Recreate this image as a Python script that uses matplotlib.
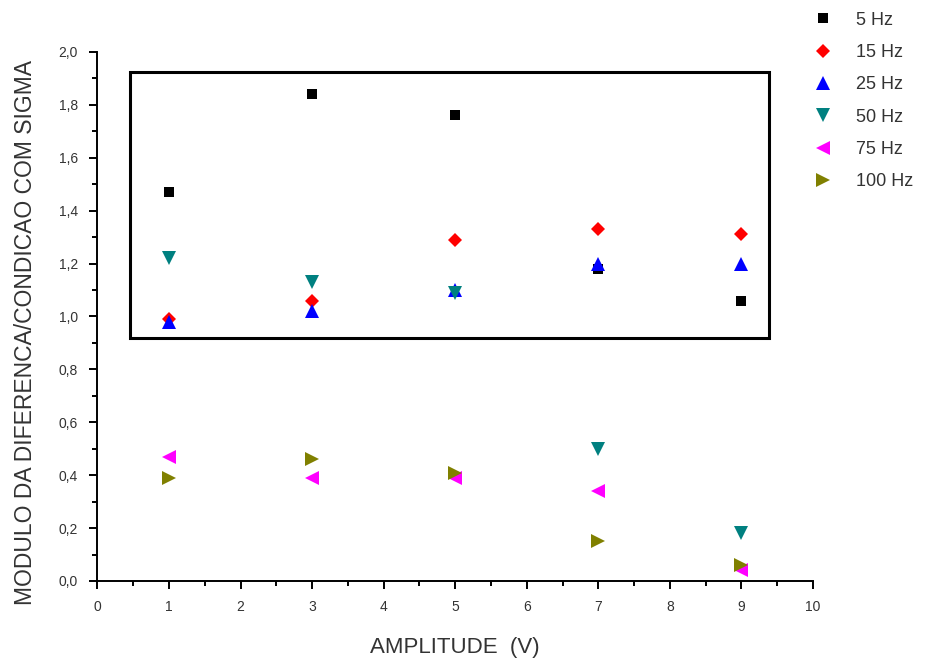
import matplotlib
matplotlib.use("Agg")
import matplotlib.pyplot as plt
from matplotlib.patches import Rectangle
from matplotlib.ticker import MultipleLocator, FuncFormatter

plt.rcParams['font.family'] = ['Liberation Sans', 'DejaVu Sans']

# Amplitude (V)
amplitude = [1, 3, 5, 7, 9]

# |diferenca| / condicao com sigma, per frequency
hz5 = [1.47, 1.84, 1.76, 1.18, 1.06]
hz15 = [0.99, 1.06, 1.29, 1.33, 1.31]
hz25 = [0.98, 1.02, 1.10, 1.20, 1.20]
hz50 = [1.22, 1.13, 1.09, 0.50, 0.18]
hz75 = [0.47, 0.39, 0.39, 0.34, 0.04]
hz100 = [0.39, 0.46, 0.41, 0.15, 0.06]

series = [
    (hz5, '5 Hz', 's', 'black', 7),
    (hz15, '15 Hz', 'D', 'red', 7),
    (hz25, '25 Hz', '^', 'blue', 10),
    (hz50, '50 Hz', 'v', '#008080', 10),
    (hz75, '75 Hz', '<', 'magenta', 10),
    (hz100, '100 Hz', '>', '#808000', 10),
]

txt = '#333333'

fig = plt.figure(figsize=(9.37, 6.62), dpi=100)
ax = fig.add_axes([0.104, 0.1224, 0.7637, 0.7991])

for vals, lab, mk, col, ms in series:
    ax.plot(amplitude, vals, linestyle='none', marker=mk, color=col,
            markersize=ms, markeredgewidth=0, label=lab, clip_on=False)

# box around the high group
ax.add_patch(Rectangle((0.45, 0.92), 8.93, 1.005, fill=False,
                       edgecolor='black', linewidth=2.2, clip_on=False))

ax.set_xlim(0, 10)
ax.set_ylim(0, 2.0)
ax.xaxis.set_major_locator(MultipleLocator(1))
ax.xaxis.set_minor_locator(MultipleLocator(0.5))
ax.yaxis.set_major_locator(MultipleLocator(0.2))
ax.yaxis.set_minor_locator(MultipleLocator(0.1))
ax.yaxis.set_major_formatter(FuncFormatter(lambda v, p: f'{v:.1f}'.replace('.', ',')))
ax.xaxis.set_major_formatter(FuncFormatter(lambda v, p: f'{v:.0f}'))

for s in ['top', 'right']:
    ax.spines[s].set_visible(False)
for s in ['left', 'bottom']:
    ax.spines[s].set_linewidth(1.4)

ax.tick_params(which='major', direction='out', length=6, width=1.4,
               labelsize=10, labelcolor=txt, pad=8)
ax.tick_params(which='minor', direction='out', length=3.5, width=1.4)

ax.set_xlabel('AMPLITUDE  (V)', fontsize=16, color=txt, labelpad=16)
ax.set_ylabel('MODULO DA DIFERENCA/CONDICAO COM SIGMA', fontsize=16.5,
              color=txt)
ax.yaxis.set_label_coords(-0.085, 0.47)

leg = fig.legend(loc='upper left', bbox_to_anchor=(0.853, 1.0),
                 frameon=False, fontsize=13, labelspacing=0.85,
                 handletextpad=1.2, handlelength=1.3, borderaxespad=0.25)
for t in leg.get_texts():
    t.set_color(txt)

fig.savefig('out.png', dpi=100)
